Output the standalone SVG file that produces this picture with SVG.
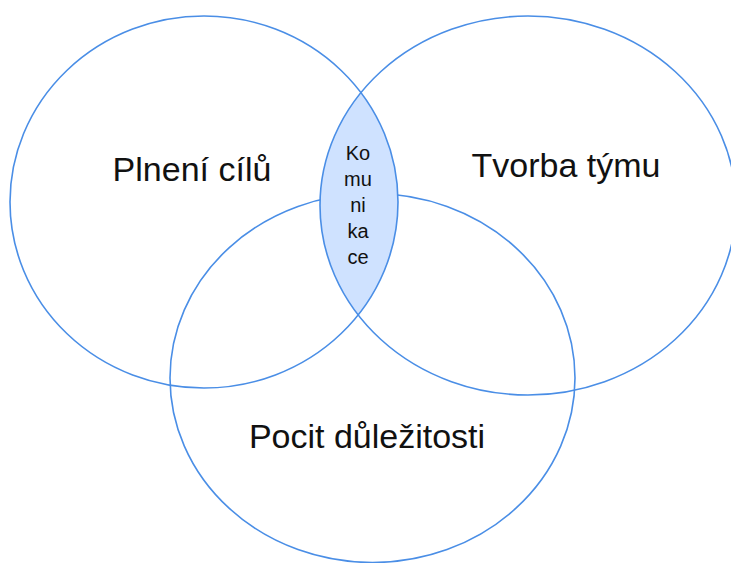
<svg xmlns="http://www.w3.org/2000/svg" width="731" height="563" viewBox="0 0 731 563">
  <style>
    .ring { fill: none; stroke: #4a8ee6; stroke-width: 1.6; }
    .lbl { font-family: "Liberation Sans", Arial, sans-serif; font-size: 34px; fill: #111; text-anchor: middle; }
    .small { font-family: "Liberation Sans", Arial, sans-serif; font-size: 20px; fill: #111; text-anchor: middle; }
  </style>
  <defs>
    <clipPath id="clipLeft">
      <ellipse cx="204" cy="202" rx="194" ry="186"/>
    </clipPath>
  </defs>
  <rect width="731" height="563" fill="#ffffff"/>
  <g id="pocit">
    <ellipse class="ring" cx="372.5" cy="378" rx="202.5" ry="184.5"/>
    <text class="lbl" x="367" y="448">Pocit důležitosti</text>
  </g>
  <g id="komunikace">
    <ellipse cx="528" cy="205.5" rx="208" ry="189.5" fill="#cfe2ff" clip-path="url(#clipLeft)"/>
    <text class="small" x="358" y="160">Ko</text>
    <text class="small" x="358" y="186">mu</text>
    <text class="small" x="358" y="212">ni</text>
    <text class="small" x="358" y="238">ka</text>
    <text class="small" x="358" y="264">ce</text>
  </g>
  <g id="plneni">
    <ellipse class="ring" cx="204" cy="202" rx="194" ry="186"/>
    <text class="lbl" x="192" y="181">Plnení cílů</text>
  </g>
  <g id="tvorba">
    <ellipse class="ring" cx="528" cy="205.5" rx="208" ry="189.5"/>
    <text class="lbl" x="566" y="177">Tvorba týmu</text>
  </g>
  <g id="connectors"></g>
</svg>
